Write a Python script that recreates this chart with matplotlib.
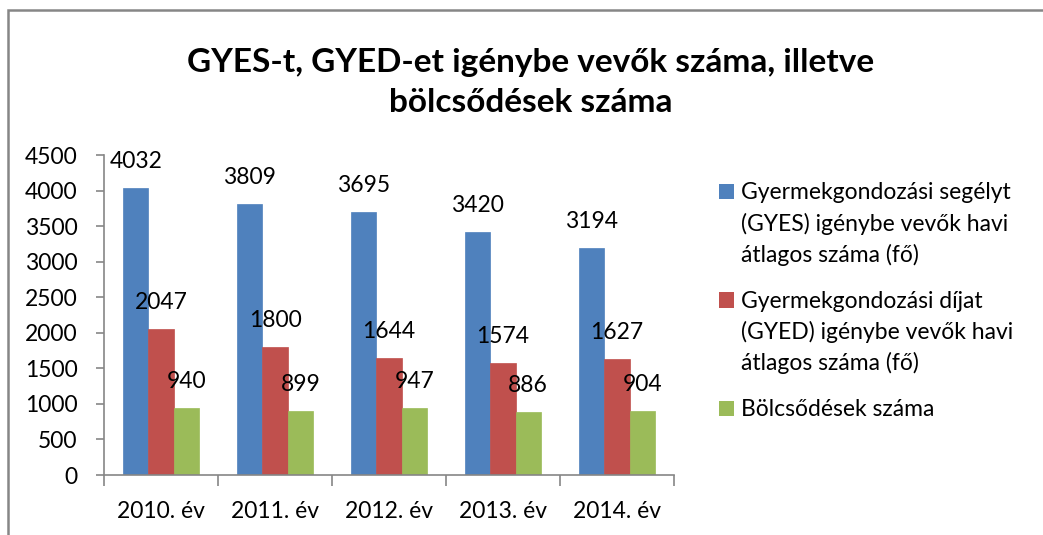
import numpy as np
import matplotlib
matplotlib.use("Agg")
from matplotlib import pyplot as plt
from matplotlib.patches import Rectangle, Patch
from matplotlib.legend_handler import HandlerPatch

# data
years = ["2010. év", "2011. év", "2012. év", "2013. év", "2014. év"]
gyes = [4032, 3809, 3695, 3420, 3194]          # GYES igénybe vevők
gyed = [2047, 1800, 1644, 1574, 1627]          # GYED igénybe vevők
bolcsodek = [940, 899, 947, 886, 904]          # bölcsődék száma
series_names = [
    "Gyermekgondozási segélyt\n(GYES) igénybe vevők havi\nátlagos száma (fő)",
    "Gyermekgondozási díjat\n(GYED) igénybe vevők havi\nátlagos száma (fő)",
    "Bölcsődések száma",
]
bar_colors = ["#4F81BD", "#C0504D", "#9BBB59"]

plt.rcParams['font.family'] = ['Lato', 'DejaVu Sans']
axis_gray = "#868686"
fs = 16.5
leg_linespacing = 1.5
line_step_pt = 33 * 72 / 100      # one legend text line, in points


def top_square(legend, orig_handle, xdescent, ydescent, width, height, fontsize):
    # Excel puts the colour key next to the first line of a wrapped label
    nlines = orig_handle.get_label().count("\n")
    shift = nlines / 2 * line_step_pt
    return Rectangle((-xdescent, -ydescent + shift), width, height)


fig = plt.figure(figsize=(10.43, 5.35), dpi=100)
ax = fig.add_axes([104/1043, 60/535, 570/1043, 320/535])

x = np.arange(len(years))
w = 0.222
for k, (vals, col) in enumerate(zip([gyes, gyed, bolcsodek], bar_colors)):
    bars = ax.bar(x + (k - 1) * w, vals, w, color=col, edgecolor=col, linewidth=0.5)
    for b, v in zip(bars, vals):
        ax.annotate(str(v), (b.get_x() + b.get_width() / 2, v), xytext=(0, 14.4),
                    textcoords="offset points", ha="center", va="baseline", fontsize=fs)

ax.set_xlim(-0.5, len(years) - 0.5)
ax.set_ylim(0, 4500)
ax.set_yticks(np.arange(0, 4501, 500))

# category boundaries get the tick marks, labels sit in the middle
ax.set_xticks(np.arange(-0.5, len(years), 1))
ax.set_xticks(x, minor=True)
ax.set_xticklabels(years, minor=True)
ax.tick_params(axis="x", which="major", length=8, color=axis_gray, width=1.2, labelbottom=False)
ax.tick_params(axis="x", which="minor", length=0, labelsize=fs, pad=19)
ax.tick_params(axis="y", length=6, color=axis_gray, width=1.2, labelsize=fs, pad=13)

for s in ["top", "right"]:
    ax.spines[s].set_visible(False)
for s in ["left", "bottom"]:
    ax.spines[s].set_color(axis_gray)
    ax.spines[s].set_linewidth(1.2)

handles = [Patch(facecolor=c, label=n) for c, n in zip(bar_colors, series_names)]
leg = ax.legend(handles=handles, loc="upper left", bbox_to_anchor=(708/1043, 1 - 171/535),
                bbox_transform=fig.transFigure, frameon=False, fontsize=fs,
                handlelength=0.65, handleheight=0.65, handletextpad=0.3,
                labelspacing=1.1, borderpad=0,
                handler_map={Patch: HandlerPatch(patch_func=top_square)})
for t in leg.get_texts():
    t.set_linespacing(leg_linespacing)

fig.text(531/1043, 1 - 112/535, "GYES-t, GYED-et igénybe vevők száma, illetve\nbölcsődések száma",
         ha="center", va="baseline", fontsize=24, fontweight="bold", linespacing=1.44)

# chart area border (cropped on the right and bottom in the original)
fig.patches.append(Rectangle((8/1043, -0.2), 1.2, 1.2 - 10/535, transform=fig.transFigure,
                             fill=False, edgecolor=axis_gray, linewidth=1.8))

fig.savefig("out.png", dpi=100)
